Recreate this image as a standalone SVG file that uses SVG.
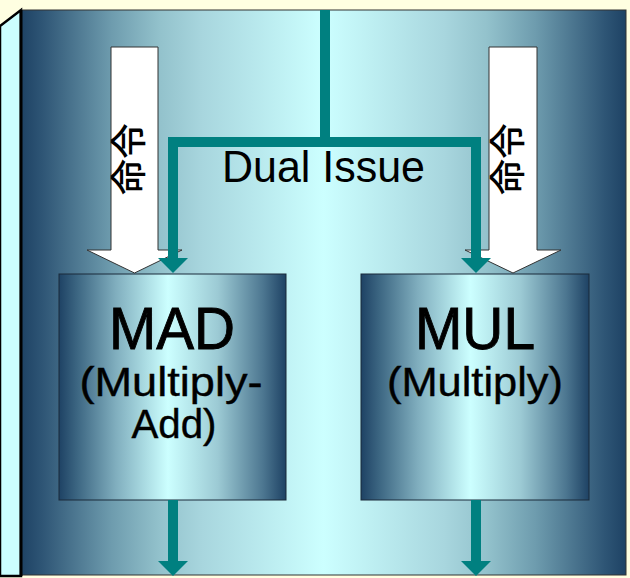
<svg xmlns="http://www.w3.org/2000/svg" width="630" height="578" viewBox="0 0 630 578">
  <defs>
    <linearGradient id="panelGrad" x1="0" y1="0" x2="1" y2="0">
      <stop offset="0" stop-color="#1E4264"/>
      <stop offset="0.035" stop-color="#2E5575"/>
      <stop offset="0.15" stop-color="#6E9CAE"/>
      <stop offset="0.23" stop-color="#93C2CC"/>
      <stop offset="0.30" stop-color="#A8D6DE"/>
      <stop offset="0.5" stop-color="#CCFFFF"/>
      <stop offset="0.70" stop-color="#A8D6DE"/>
      <stop offset="0.77" stop-color="#93C2CC"/>
      <stop offset="0.85" stop-color="#6E9CAE"/>
      <stop offset="0.965" stop-color="#2E5575"/>
      <stop offset="1" stop-color="#1E4264"/>
    </linearGradient>
    <linearGradient id="boxGrad" x1="0" y1="0" x2="1" y2="0">
      <stop offset="0" stop-color="#1E4264"/>
      <stop offset="0.08" stop-color="#3C6682"/>
      <stop offset="0.25" stop-color="#80AEBE"/>
      <stop offset="0.48" stop-color="#CCFFFF"/>
      <stop offset="0.70" stop-color="#9CCAD4"/>
      <stop offset="0.90" stop-color="#4C7690"/>
      <stop offset="1" stop-color="#1E4264"/>
    </linearGradient>
    <marker id="head" markerUnits="userSpaceOnUse" viewBox="0 0 15 30" refX="0" refY="15" markerWidth="15" markerHeight="30" orient="auto">
      <path d="M0,0 L15,15 L0,30 Z" fill="#008080"/>
    </marker>
    <style>
      .box { fill: url(#boxGrad); stroke: #1A2A3A; stroke-width: 1; }
      .wide { fill: #FFFFFF; stroke: #333333; stroke-width: 1; }
      .flow { fill: none; stroke: #008080; stroke-width: 10; stroke-linejoin: miter; marker-end: url(#head); }
      .big { font-family: "Liberation Sans", Arial, sans-serif; font-size: 60px; fill: #000; stroke: #000; stroke-width: 0.9; text-anchor: middle; }
      .sub { font-family: "Liberation Sans", Arial, sans-serif; font-size: 41px; fill: #000; stroke: #000; stroke-width: 0.4; text-anchor: middle; }
      .lbl { font-family: "Liberation Sans", Arial, sans-serif; font-size: 45px; fill: #000; text-anchor: middle; }
      .cjk { font-family: "Liberation Sans", "Noto Sans CJK JP", sans-serif; font-size: 36px; font-weight: 500; fill: #000; text-anchor: middle; dominant-baseline: central; }
    </style>
  </defs>

  <rect x="0" y="0" width="630" height="578" fill="#FFFFE1"/>

  <g id="side">
    <polygon points="0,26 21,10 21,576 0,576" fill="#CCFFFF" stroke="#000" stroke-width="2.5"/>
  </g>

  <g id="panel">
    <rect x="21" y="10" width="605" height="565" fill="url(#panelGrad)" stroke="#333" stroke-width="1"/>
    <line x1="21" y1="10" x2="21" y2="576" stroke="#000" stroke-width="3"/>
  </g>

  <g id="instr-left">
    <polygon class="wide" points="111,47 158,47 158,250 182,250 134.5,273 87,250 111,250"/>
    <text class="cjk" x="129" y="159" transform="rotate(-90 129 159)">命令</text>
  </g>

  <g id="instr-right">
    <polygon class="wide" points="489,47 537,47 537,250 561,250 513,273 465,250 489,250"/>
    <text class="cjk" x="508" y="159" transform="rotate(-90 508 159)">命令</text>
  </g>

  <g id="mad">
    <rect class="box" x="59" y="274" width="227" height="226"/>
    <text class="big" x="172" y="349" textLength="126" lengthAdjust="spacingAndGlyphs">MAD</text>
    <text class="sub" x="171" y="396" textLength="183" lengthAdjust="spacingAndGlyphs">(Multiply-</text>
    <text class="sub" x="174" y="438" textLength="85" lengthAdjust="spacingAndGlyphs">Add)</text>
  </g>

  <g id="mul">
    <rect class="box" x="361" y="274" width="228" height="226"/>
    <text class="big" x="475" y="349" textLength="120" lengthAdjust="spacingAndGlyphs">MUL</text>
    <text class="sub" x="475" y="396" textLength="176" lengthAdjust="spacingAndGlyphs">(Multiply)</text>
  </g>

  <g id="dual-issue">
    <text class="lbl" x="323.5" y="182" textLength="203" lengthAdjust="spacingAndGlyphs">Dual Issue</text>
  </g>

  <g id="connectors">
    <path class="flow" d="M325,10 V142 H173 V258"/>
    <path class="flow" d="M325,142 H476 V258"/>
    <path class="flow" d="M173,500 V561"/>
    <path class="flow" d="M476,500 V561"/>
  </g>
</svg>
